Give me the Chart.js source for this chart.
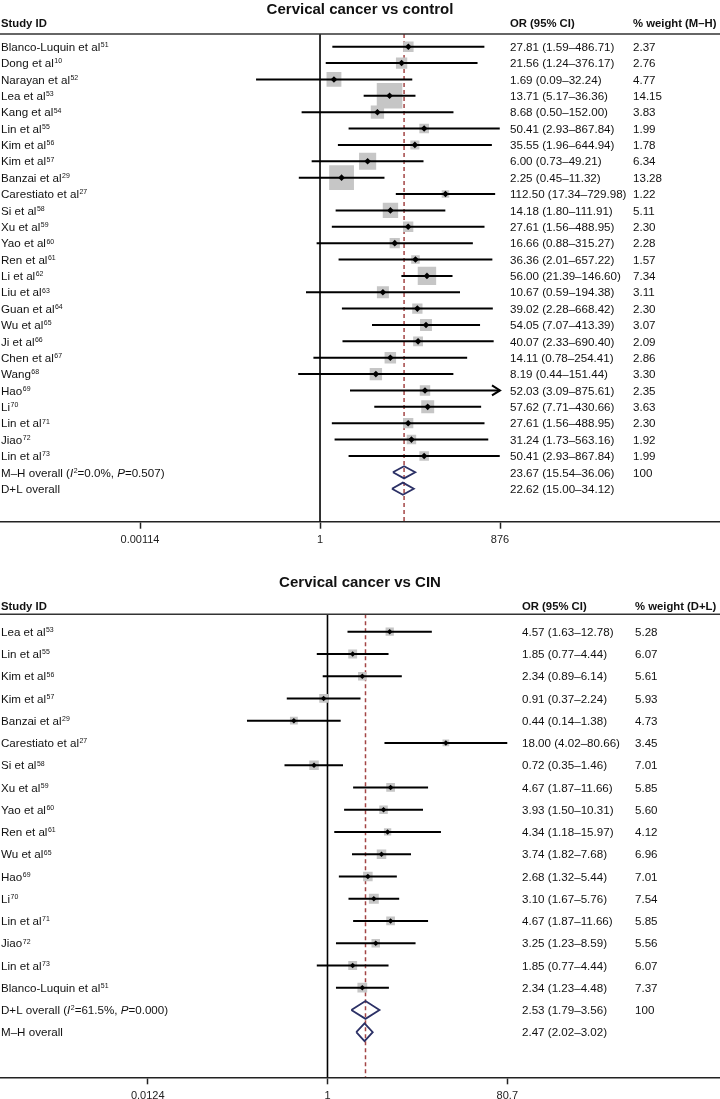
<!DOCTYPE html>
<html>
<head>
<meta charset="utf-8">
<script src="https://cdn.jsdelivr.net/npm/chart.js@4.4.1/dist/chart.umd.min.js"></script>
<style>
html, body { margin: 0; padding: 0; background: #fff; }
#wrap { position: relative; width: 720px; height: 1099px; overflow: hidden; }
canvas { position: absolute; left: 0; }
#chart1 { top: 0; }
#chart2 { top: 552px; }
</style>
</head>
<body>
<div id="wrap">
<canvas id="chart1" width="720" height="552"></canvas>
<canvas id="chart2" width="720" height="547"></canvas>
</div>
<script>
// Cervical cancer vs control (M-H weights)
var names1 = ['Blanco-Luquin et al', 'Dong et al', 'Narayan et al', 'Lea et al', 'Kang et al', 'Lin et al', 'Kim et al', 'Kim et al',
    'Banzai et al', 'Carestiato et al', 'Si et al', 'Xu et al', 'Yao et al', 'Ren et al', 'Li et al', 'Liu et al', 'Guan et al',
    'Wu et al', 'Ji et al', 'Chen et al', 'Wang', 'Hao', 'Li', 'Lin et al', 'Jiao', 'Lin et al'];
var refs1 = ['51', '10', '52', '53', '54', '55', '56', '57', '29', '27', '58', '59', '60', '61', '62', '63', '64', '65', '66', '67',
    '68', '69', '70', '71', '72', '73'];
var or1 = [27.81, 21.56, 1.69, 13.71, 8.68, 50.41, 35.55, 6.00, 2.25, 112.50, 14.18, 27.61, 16.66, 36.36, 56.00, 10.67, 39.02,
    54.05, 40.07, 14.11, 8.19, 52.03, 57.62, 27.61, 31.24, 50.41];
var lo1 = [1.59, 1.24, 0.09, 5.17, 0.50, 2.93, 1.96, 0.73, 0.45, 17.34, 1.80, 1.56, 0.88, 2.01, 21.39, 0.59, 2.28,
    7.07, 2.33, 0.78, 0.44, 3.09, 7.71, 1.56, 1.73, 2.93];
var hi1 = [486.71, 376.17, 32.24, 36.36, 152.00, 867.84, 644.94, 49.21, 11.32, 729.98, 111.91, 488.95, 315.27, 657.22, 146.60,
    194.38, 668.42, 413.39, 690.40, 254.41, 151.44, 875.61, 430.66, 488.95, 563.16, 867.84];
var wt1 = [2.37, 2.76, 4.77, 14.15, 3.83, 1.99, 1.78, 6.34, 13.28, 1.22, 5.11, 2.30, 2.28, 1.57, 7.34, 3.11, 2.30, 3.07, 2.09,
    2.86, 3.30, 2.35, 3.63, 2.30, 1.92, 1.99];
var ovNames1 = ['M–H overall', 'D+L overall'];
var ovI2_1 = ['0.0%', ''];
var ovP1 = ['0.507', ''];
var ovOr1 = [23.67, 22.62];
var ovLo1 = [15.54, 15.00];
var ovHi1 = [36.06, 34.12];
var ovWt1 = ['100', ''];
var ticks1 = [0.00114, 1, 876];
var tickLabels1 = ['0.00114', '1', '876'];

// Cervical cancer vs CIN (D+L weights)
var names2 = ['Lea et al', 'Lin et al', 'Kim et al', 'Kim et al', 'Banzai et al', 'Carestiato et al', 'Si et al', 'Xu et al',
    'Yao et al', 'Ren et al', 'Wu et al', 'Hao', 'Li', 'Lin et al', 'Jiao', 'Lin et al', 'Blanco-Luquin et al'];
var refs2 = ['53', '55', '56', '57', '29', '27', '58', '59', '60', '61', '65', '69', '70', '71', '72', '73', '51'];
var or2 = [4.57, 1.85, 2.34, 0.91, 0.44, 18.00, 0.72, 4.67, 3.93, 4.34, 3.74, 2.68, 3.10, 4.67, 3.25, 1.85, 2.34];
var lo2 = [1.63, 0.77, 0.89, 0.37, 0.14, 4.02, 0.35, 1.87, 1.50, 1.18, 1.82, 1.32, 1.67, 1.87, 1.23, 0.77, 1.23];
var hi2 = [12.78, 4.44, 6.14, 2.24, 1.38, 80.66, 1.46, 11.66, 10.31, 15.97, 7.68, 5.44, 5.76, 11.66, 8.59, 4.44, 4.48];
var wt2 = [5.28, 6.07, 5.61, 5.93, 4.73, 3.45, 7.01, 5.85, 5.60, 4.12, 6.96, 7.01, 7.54, 5.85, 5.56, 6.07, 7.37];
var ovNames2 = ['D+L overall', 'M–H overall'];
var ovI2_2 = ['61.5%', ''];
var ovP2 = ['0.000', ''];
var ovOr2 = [2.53, 2.47];
var ovLo2 = [1.79, 2.02];
var ovHi2 = [3.56, 3.02];
var ovWt2 = ['100', ''];
var ticks2 = [0.0124, 1, 80.7];
var tickLabels2 = ['0.0124', '1', '80.7'];

var FAM = '"Liberation Sans", Arial, Helvetica, sans-serif';
var INK = '#111';

function orText(o, l, h) {
    return o.toFixed(2) + ' (' + l.toFixed(2) + '–' + h.toFixed(2) + ')';
}

// draws [text, style] pieces one after another; style n = normal, i = italic, sup = superscript
function drawRich(ctx, x, y, parts, size) {
    for (var k = 0; k < parts.length; k++) {
        var t = parts[k][0], s = parts[k][1];
        if (!t) continue;
        if (s == 'sup') {
            ctx.font = (size * 0.6) + 'px ' + FAM;
            ctx.fillText(t, x + 0.5, y - size * 0.33);
            x += ctx.measureText(t).width + 0.5;
        } else {
            ctx.font = (s == 'i' ? 'italic ' : '') + size + 'px ' + FAM;
            ctx.fillText(t, x, y);
            x += ctx.measureText(t).width;
        }
    }
}

function drawText(chart, p) {
    var ctx = chart.ctx, ca = chart.chartArea, ys = chart.scales.y, xs = chart.scales.x;
    var fs = 11.6;
    ctx.save();

    // rule under the column heads
    ctx.strokeStyle = '#333';
    ctx.lineWidth = 1.5;
    ctx.beginPath();
    ctx.moveTo(0, ca.top);
    ctx.lineTo(chart.width, ca.top);
    ctx.stroke();

    ctx.fillStyle = INK;
    ctx.textBaseline = 'alphabetic';
    ctx.textAlign = 'center';
    ctx.font = 'bold 15px ' + FAM;
    ctx.fillText(p.title, 360, p.titleY + 5.4);

    ctx.textAlign = 'left';
    ctx.font = 'bold 11.3px ' + FAM;
    ctx.fillText('Study ID', 1, p.headY + 4);
    ctx.fillText('OR (95% CI)', p.orX, p.headY + 4);
    ctx.fillText(p.wtHead, p.wtX, p.headY + 4);

    var i, y;
    for (i = 0; i < p.names.length; i++) {
        y = ys.getPixelForValue(i) + 4.2;
        drawRich(ctx, 1, y, [[p.names[i], 'n'], [p.refs[i], 'sup']], fs);
        ctx.font = fs + 'px ' + FAM;
        ctx.fillText(orText(p.or[i], p.lo[i], p.hi[i]), p.orX, y);
        ctx.fillText(p.wt[i].toFixed(2), p.wtX, y);
    }
    for (var k = 0; k < p.ovOr.length; k++) {
        y = ys.getPixelForValue(p.names.length + k) + 4.2;
        var parts = [[p.ovNames[k], 'n']];
        if (p.ovI2[k]) {
            parts = [[p.ovNames[k] + ' (', 'n'], ['I', 'i'], ['2', 'sup'], ['=' + p.ovI2[k] + ', ', 'n'], ['P', 'i'], ['=' + p.ovP[k] + ')', 'n']];
        }
        drawRich(ctx, 1, y, parts, fs);
        ctx.font = fs + 'px ' + FAM;
        ctx.fillText(orText(p.ovOr[k], p.ovLo[k], p.ovHi[k]), p.orX, y);
        ctx.fillText(p.ovWt[k], p.wtX, y);
    }

    // arrow where the CI runs off the axis
    if (p.arrow >= 0) {
        var tip = xs.getPixelForValue(p.hi[p.arrow]);
        var ay = ys.getPixelForValue(p.arrow);
        ctx.strokeStyle = '#000';
        ctx.lineWidth = 2;
        ctx.beginPath();
        ctx.moveTo(tip - 8, ay - 5);
        ctx.lineTo(tip, ay);
        ctx.lineTo(tip - 8, ay + 5);
        ctx.stroke();
    }
    ctx.restore();
}

function makePanel(p) {
    var n = p.names.length;
    var ci = [], pts = [], boxR = [], dia = [];
    for (var i = 0; i < n; i++) {
        ci.push({x: p.lo[i], y: i}, {x: p.hi[i], y: i}, {x: null, y: null});
        pts.push({x: p.or[i], y: i});
        boxR.push(p.boxK * Math.sqrt(p.wt[i]) / Math.SQRT2);
    }
    for (var k = 0; k < p.ovOr.length; k++) {
        var r = n + k;
        dia.push({x: p.ovLo[k], y: r}, {x: p.ovOr[k], y: r - p.dh}, {x: p.ovHi[k], y: r},
            {x: p.ovOr[k], y: r + p.dh}, {x: p.ovLo[k], y: r}, {x: null, y: null});
    }

    // y mapping: rows fall at row0 + i*rowH pixels, chart area from headline to axis line
    var ymin = -(p.row0 - p.top) / p.rowH;
    var ymax = ymin + (p.height - p.axisH - p.top) / p.rowH;
    // x mapping: first and last tick at fixed pixels, chart area spans the full width
    var l0 = Math.log10(p.ticks[0]), l1 = Math.log10(p.ticks[2]);
    var ppd = (p.tickPx[1] - p.tickPx[0]) / (l1 - l0);
    var xmin = Math.pow(10, l0 - p.tickPx[0] / ppd);
    var xmax = Math.pow(10, l1 + (720 - p.tickPx[1]) / ppd);

    new Chart(document.getElementById(p.id), {
        type: 'scatter',
        data: {
            datasets: [
                {data: pts, pointStyle: 'rectRot', pointRadius: p.ptR, backgroundColor: '#000', borderWidth: 0},
                {data: ci, showLine: true, borderColor: '#000', borderWidth: 2, pointRadius: 0, spanGaps: false},
                {data: dia, showLine: true, borderColor: '#2c3166', borderWidth: 1.8, pointRadius: 0, spanGaps: false},
                {data: pts, pointStyle: 'rect', pointRadius: boxR, backgroundColor: '#c6c6c6', borderWidth: 0},
                {data: [{x: p.ovOr[0], y: ymin}, {x: p.ovOr[0], y: ymax}], showLine: true, borderColor: '#a34444',
                    borderWidth: 1.5, borderDash: [4, 3], pointRadius: 0},
                {data: [{x: 1, y: ymin}, {x: 1, y: ymax}], showLine: true, borderColor: '#000', borderWidth: 1.6, pointRadius: 0}
            ]
        },
        options: {
            responsive: false,
            animation: false,
            events: [],
            devicePixelRatio: 1,
            layout: {autoPadding: false, padding: {top: p.top, bottom: 0, left: 0, right: 0}},
            plugins: {legend: {display: false}, tooltip: {enabled: false}, title: {display: false}},
            scales: {
                x: {
                    type: 'logarithmic',
                    bounds: 'data',
                    min: xmin,
                    max: xmax,
                    afterBuildTicks: function (s) {
                        s.ticks = p.ticks.map(function (v) { return {value: v}; });
                    },
                    afterFit: function (s) { s.height = p.axisH; },
                    ticks: {
                        autoSkip: false, maxRotation: 0, padding: p.tickPad, color: '#222',
                        font: {family: FAM, size: 11},
                        callback: function (v, idx) { return p.tickLabels[idx]; }
                    },
                    grid: {drawOnChartArea: false, drawTicks: true, tickLength: 7, tickColor: '#222', tickWidth: 1.5},
                    border: {display: true, color: '#222', width: 1.5}
                },
                y: {type: 'linear', reverse: true, min: ymin, max: ymax, display: false}
            }
        },
        plugins: [{id: 'forestText', afterDraw: function (chart) { drawText(chart, p); }}]
    });
}

makePanel({
    id: 'chart1', height: 552, top: 34, row0: 46.7, rowH: 16.37, axisH: 30.3, tickPx: [140, 500], tickPad: 4.5,
    boxK: 6.8, ptR: 3.3, dh: 0.37, titleY: 8.7, headY: 23.3, orX: 510, wtX: 633,
    title: 'Cervical cancer vs control', wtHead: '% weight (M–H)',
    names: names1, refs: refs1, or: or1, lo: lo1, hi: hi1, wt: wt1,
    ovNames: ovNames1, ovI2: ovI2_1, ovP: ovP1, ovOr: ovOr1, ovLo: ovLo1, ovHi: ovHi1, ovWt: ovWt1,
    ticks: ticks1, tickLabels: tickLabels1, arrow: names1.indexOf('Hao')
});

makePanel({
    id: 'chart2', height: 547, top: 62.3, row0: 79.7, rowH: 22.25, axisH: 21.7, tickPx: [147.7, 507.3], tickPad: 5.5,
    boxK: 3.6, ptR: 2.8, dh: 0.4, titleY: 29.7, headY: 53.7, orX: 522, wtX: 635,
    title: 'Cervical cancer vs CIN', wtHead: '% weight (D+L)',
    names: names2, refs: refs2, or: or2, lo: lo2, hi: hi2, wt: wt2,
    ovNames: ovNames2, ovI2: ovI2_2, ovP: ovP2, ovOr: ovOr2, ovLo: ovLo2, ovHi: ovHi2, ovWt: ovWt2,
    ticks: ticks2, tickLabels: tickLabels2, arrow: -1
});
</script>
</body>
</html>
